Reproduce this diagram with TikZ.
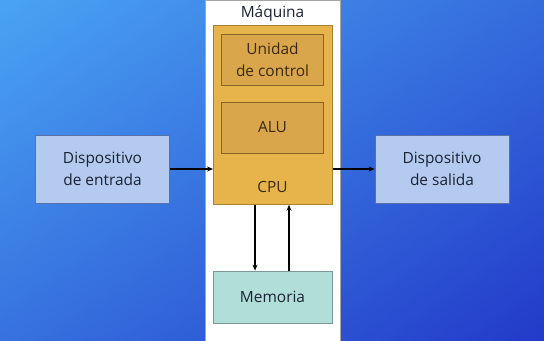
\documentclass[tikz,border=0pt]{standalone}
\usepackage{fontspec}
\setmainfont{Open Sans}
\usetikzlibrary{arrows.meta}
\definecolor{bgA}{HTML}{4CAAF6}
\definecolor{bgB}{HTML}{2034C6}
\definecolor{cpufill}{HTML}{E6B44A}
\definecolor{cpuline}{HTML}{A8822E}
\definecolor{subfill}{HTML}{DAA64C}
\definecolor{subline}{HTML}{8A6424}
\definecolor{memfill}{HTML}{B2DEDA}
\definecolor{memline}{HTML}{7A9A98}
\definecolor{devfill}{HTML}{B4CAEE}
\definecolor{devline}{HTML}{5A70A8}
\definecolor{txt}{HTML}{1A2234}
\definecolor{cputxt}{HTML}{3A2A12}
\tikzset{
  box/.style={draw, line width=0.8pt, inner sep=0pt, align=center, font=\fontsize{15.5}{21.5}\selectfont, text=txt},
  devbox/.style={box, fill=devfill, draw=devline, minimum width=134bp, minimum height=68bp},
  subbox/.style={box, fill=subfill, draw=subline, minimum width=102bp, minimum height=51bp, text=cputxt},
  conn/.style={line width=1.3pt, -{Stealth[length=6bp,width=5bp]}},
}
\begin{document}
\begin{tikzpicture}[x=1bp,y=-1bp]
\useasboundingbox (0,0) rectangle (544,340);
\shade[shading=axis, top color=bgA, bottom color=bgB, shading angle=35] (-120,-120) rectangle (664,460);
% machine
\node[draw=gray!70, fill=white, line width=0.6pt, minimum width=135bp, minimum height=342bp, inner sep=0pt, anchor=north west] (maq) at (205,0) {};
\node[font=\fontsize{15.5}{20}\selectfont, text=txt] (maqlabel) at (272.5,13) {Máquina};
\node[draw=cpuline, fill=cpufill, line width=0.8pt, minimum width=119bp, minimum height=179bp, inner sep=0pt, anchor=north west] (cpu) at (213,25) {};
\node[subbox] (uc) at (272.5,59.5) {Unidad\\de control};
\node[subbox] (alu) at (272.5,127.5) {ALU};
\node[font=\fontsize{15.5}{20}\selectfont, text=cputxt] (cpulabel) at (272.5,187) {CPU};
\node[box, fill=memfill, draw=memline, minimum width=119bp, minimum height=52bp] (mem) at (272.5,297) {Memoria};
\node[devbox] (in) at (102.5,169) {Dispositivo\\de entrada};
\node[devbox] (out) at (442,169) {Dispositivo\\de salida};
% connectors
\draw[conn] (in.east) -- (cpu.west |- in.east);
\draw[conn] (cpu.east |- out.west) -- (out.west);
\draw[conn] (cpu.south -| 255,0) -- (mem.north -| 255,0);
\draw[conn] (mem.north -| 289,0) -- (cpu.south -| 289,0);
\end{tikzpicture}
\end{document}
